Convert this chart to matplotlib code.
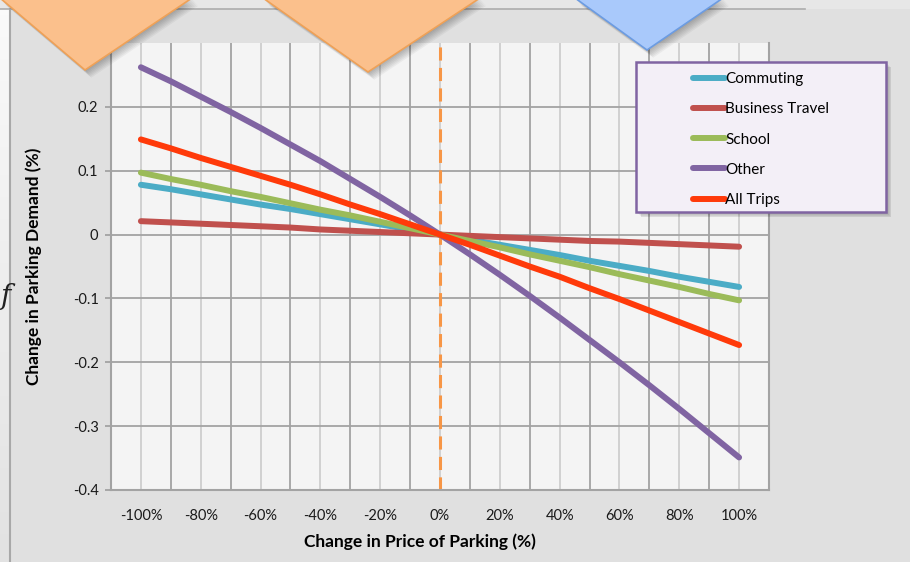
import numpy as np
import matplotlib
matplotlib.use('Agg')
import matplotlib.pyplot as plt
from matplotlib.patches import Polygon, Rectangle

plt.rcParams['font.family'] = ['Lato', 'DejaVu Sans']

# price change (%) and demand change for each trip purpose
price_change = [-100, -90, -80, -70, -60, -50, -40, -30, -20, -10, 0,
                10, 20, 30, 40, 50, 60, 70, 80, 90, 100]
commuting = [0.078, 0.071, 0.063, 0.055, 0.047, 0.040, 0.032, 0.024, 0.016, 0.008, 0.0,
             -0.008, -0.016, -0.024, -0.032, -0.041, -0.049, -0.057, -0.066, -0.074, -0.082]
business = [0.021, 0.019, 0.017, 0.015, 0.013, 0.011, 0.008, 0.006, 0.004, 0.002, 0.0,
            -0.002, -0.004, -0.006, -0.008, -0.010, -0.011, -0.013, -0.015, -0.017, -0.019]
school = [0.097, 0.087, 0.078, 0.068, 0.059, 0.049, 0.039, 0.030, 0.020, 0.010, 0.0,
          -0.010, -0.020, -0.031, -0.041, -0.051, -0.062, -0.072, -0.082, -0.093, -0.103]
other = [0.262, 0.240, 0.216, 0.192, 0.167, 0.141, 0.115, 0.087, 0.059, 0.030, 0.0,
         -0.031, -0.063, -0.096, -0.130, -0.165, -0.200, -0.236, -0.273, -0.311, -0.349]
all_trips = [0.149, 0.135, 0.120, 0.106, 0.092, 0.078, 0.063, 0.047, 0.032, 0.016, 0.0,
             -0.016, -0.033, -0.050, -0.066, -0.084, -0.101, -0.119, -0.137, -0.155, -0.173]

series_names = ['Commuting', 'Business Travel', 'School', 'Other', 'All Trips']
series_colors = ['#4BACC6', '#C0504D', '#9BBB59', '#8064A2', '#FF3A0A']

x_ticks = [-100, -80, -60, -40, -20, 0, 20, 40, 60, 80, 100]
x_ticklabels = ['-100%', '-80%', '-60%', '-40%', '-20%', '0%', '20%', '40%', '60%', '80%', '100%']
y_ticks = [-0.4, -0.3, -0.2, -0.1, 0, 0.1, 0.2]
y_ticklabels = ['-0.4', '-0.3', '-0.2', '-0.1', '0', '0.1', '0.2']

W, H = 910, 562
fig = plt.figure(figsize=(W / 100, H / 100), dpi=100)
fig.patch.set_facecolor('#E0E0E0')

#%% background layer (pixel coordinates)
bg = fig.add_axes([0, 0, 1, 1], zorder=0)
bg.axis('off')
bg.add_patch(Rectangle((0, 0), W, 9, color='#E7E7E7', lw=0))
bg.plot([0, 805], [9, 9], color='#ADADAD', lw=1.2)
grad = np.linspace(0, 1, 100).reshape(-1, 1)
bg.imshow(grad, extent=(0, 10, 9, H), cmap=matplotlib.colors.LinearSegmentedColormap.from_list(
    'strip', ['#E2E2E2', '#FAFAFA']), aspect='auto', zorder=1)
bg.plot([10, 10], [9, H], color='#A8A8A8', lw=1.5)
bg.text(6, 296, 'f', fontsize=20, style='italic', family='DejaVu Serif',
        ha='center', va='center', color='#222222')
bg.set_xlim(0, W)
bg.set_ylim(H, 0)

#%% main chart
ax = fig.add_axes([111 / W, 1 - 490 / H, 658 / W, 447 / H], zorder=1)
ax.set_facecolor('#F4F4F4')

for name, color, values in zip(series_names, series_colors,
                               [commuting, business, school, other, all_trips]):
    ax.plot(price_change, values, color=color, lw=4.3, solid_capstyle='round',
            label=name, zorder=3)

ax.axvline(0, color='#F79646', lw=2.2, dashes=(4.3, 2.4), zorder=2)

ax.set_xlim(-110, 110)
ax.set_ylim(-0.4, 0.3)
ax.set_xticks(x_ticks)
ax.set_xticklabels(x_ticklabels, fontsize=10.5)
ax.set_xticks(np.arange(-110, 111, 20), minor=True)
ax.set_yticks(y_ticks)
ax.set_yticklabels(y_ticklabels, fontsize=10.5)

ax.grid(axis='x', which='major', color='#CACACA', lw=1.2, zorder=0)
ax.grid(axis='x', which='minor', color='#A3A3A3', lw=1.3, zorder=0)
ax.grid(axis='y', which='major', color='#A3A3A3', lw=1.3, zorder=0)
ax.set_axisbelow(True)

ax.tick_params(axis='x', which='both', length=0, pad=14, colors='#1A1A1A')
ax.tick_params(axis='y', length=4, width=1.3, color='#A3A3A3', pad=5, labelcolor='#1A1A1A')
for side in ['left', 'bottom', 'right']:
    ax.spines[side].set_color('#A3A3A3')
    ax.spines[side].set_linewidth(1.5)
ax.spines['top'].set_visible(False)

ax.set_xlabel('Change in Price of Parking (%)', fontsize=12.5, fontweight='bold')
ax.xaxis.set_label_coords((420 - 111) / 658, -(542 - 490) / 447)
ax.xaxis.label.set_va('center')
ax.set_ylabel('Change in Parking Demand (%)', fontsize=12.5, fontweight='bold', labelpad=22)

# legend box with shadow
lx0 = (636 - 111) / 658
ly0 = (490 - 212) / 447
lw_ = 250 / 658
lh_ = 150 / 447
for k in range(1, 7):
    ax.add_patch(Rectangle((lx0 + k * 0.9 / 658, ly0 - k * 0.9 / 447), lw_, lh_,
                           transform=ax.transAxes, color='black', alpha=0.05,
                           lw=0, clip_on=False, zorder=5))
ax.add_patch(Rectangle((lx0, ly0), lw_, lh_, transform=ax.transAxes,
                       facecolor='#F3EFF7', edgecolor='#8064A2', lw=1.8,
                       clip_on=False, zorder=6))
leg = ax.legend(loc='center', bbox_to_anchor=((761 - 111) / 658, (490 - 139.5) / 447),
                frameon=False, handlelength=2.15, handletextpad=0.0, labelspacing=1.06,
                fontsize=11)
leg.set_zorder(7)

#%% decorative shapes over the top of the chart
ov = fig.add_axes([0, 0, 1, 1], zorder=3)
ov.patch.set_alpha(0)
ov.set_xlim(0, W)
ov.set_ylim(H, 0)
ov.axis('off')

shapes = [
    ([(0, -2), (192, -2), (85, 70)], '#FBC08C', '#EFA157'),
    ([(263, -2), (480, -2), (368, 72)], '#FBC08C', '#EFA157'),
    ([(575, -2), (723, -2), (647, 50)], '#A9C9FB', '#6C9CE2'),
]
for pts, fc, ec in shapes:
    pts = np.array(pts, dtype=float)
    for k in range(1, 8):
        ov.add_patch(Polygon(pts + [k * 0.9, k * 1.1], closed=True, color='black',
                             alpha=0.045, lw=0))
    ov.add_patch(Polygon(pts, closed=True, facecolor=fc, edgecolor=ec, lw=1.2))

fig.savefig('out.png', dpi=100)
